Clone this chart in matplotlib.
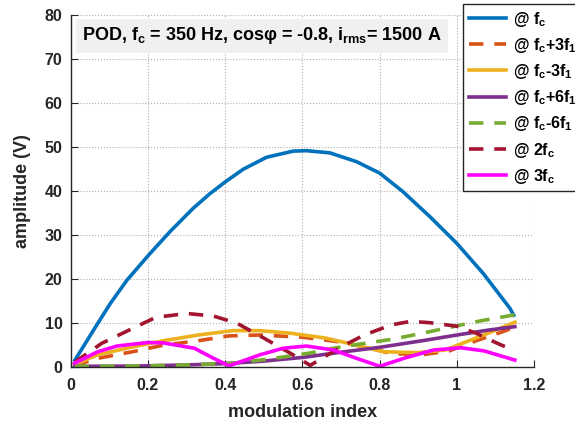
import matplotlib
matplotlib.use("Agg")
import matplotlib.pyplot as plt

plt.rcParams['font.family'] = ['Liberation Sans', 'DejaVu Sans']
plt.rcParams['font.weight'] = 'bold'
plt.rcParams['mathtext.fontset'] = 'custom'
plt.rcParams['mathtext.bf'] = 'Liberation Sans:bold'
plt.rcParams['mathtext.rm'] = 'Liberation Sans:bold'
plt.rcParams['mathtext.default'] = 'bf'

# --- dados ---
m_fc = [0.011, 0.059, 0.102, 0.145, 0.2, 0.257, 0.317, 0.36, 0.4, 0.447, 0.507, 0.576, 0.61,
        0.671, 0.74, 0.8, 0.86, 0.93, 1.0, 1.068, 1.137, 1.147]
a_fc = [1.5, 8.3, 14.3, 19.6, 25.2, 30.7, 36.0, 39.3, 42.0, 44.9, 47.6, 49.0, 49.1,
        48.6, 46.6, 44.0, 39.8, 34.1, 28.0, 21.2, 13.3, 11.7]

m_p3 = [0.01, 0.07, 0.16, 0.24, 0.33, 0.41, 0.49, 0.6, 0.69, 0.76, 0.83, 0.91, 0.98, 1.05, 1.12, 1.15]
a_p3 = [0.3, 1.9, 3.4, 4.9, 5.9, 7.0, 7.2, 6.7, 5.7, 4.5, 3.0, 2.7, 3.6, 5.9, 8.0, 9.0]

m_m3 = [0.01, 0.07, 0.16, 0.24, 0.33, 0.42, 0.49, 0.57, 0.66, 0.74, 0.81, 0.85, 0.9, 0.97, 1.04, 1.1, 1.15]
a_m3 = [0.5, 2.7, 4.5, 5.9, 7.2, 8.2, 8.2, 7.6, 6.5, 4.9, 3.4, 3.3, 3.2, 3.8, 6.2, 8.3, 10.1]

m_p6 = [0.01, 0.1, 0.2, 0.3, 0.4, 0.49, 0.6, 0.7, 0.8, 0.91, 1.0, 1.08, 1.15]
a_p6 = [0.1, 0.1, 0.2, 0.4, 0.7, 1.2, 2.1, 3.3, 4.4, 5.9, 7.2, 8.3, 9.1]

m_m6 = [0.01, 0.1, 0.2, 0.3, 0.42, 0.49, 0.55, 0.62, 0.68, 0.76, 0.83, 0.91, 0.99, 1.06, 1.15]
a_m6 = [0.1, 0.1, 0.2, 0.4, 0.8, 1.5, 2.2, 3.1, 4.2, 5.3, 6.2, 7.6, 9.1, 10.4, 11.8]

m_2fc = [0.01, 0.08, 0.16, 0.22, 0.3, 0.37, 0.43, 0.5, 0.57, 0.62, 0.7, 0.76, 0.83, 0.88, 0.93, 1.0, 1.05, 1.1, 1.15]
a_2fc = [1.0, 5.3, 8.7, 11.2, 12.1, 11.5, 9.9, 6.5, 3.0, 0.3, 4.5, 7.2, 9.5, 10.3, 10.0, 9.2, 7.6, 5.5, 3.6]

m_3fc = [0.01, 0.07, 0.12, 0.2, 0.24, 0.32, 0.37, 0.41, 0.49, 0.55, 0.61, 0.68, 0.74, 0.8, 0.87, 0.94, 1.01, 1.07, 1.15]
a_3fc = [0.8, 3.4, 4.7, 5.5, 5.4, 4.2, 1.9, 0.2, 2.7, 4.2, 4.7, 3.8, 1.9, 0.1, 2.1, 3.8, 4.3, 3.6, 1.5]

labels = ['@ f$_c$', '@ f$_c$+3f$_1$', '@ f$_c$-3f$_1$', '@ f$_c$+6f$_1$',
          '@ f$_c$-6f$_1$', '@ 2f$_c$', '@ 3f$_c$']

fig = plt.figure(figsize=(5.75, 4.21), dpi=100)
ax = fig.add_axes([0.123, 0.129, 0.806, 0.836])

lw = 2.6
dash = (4, 3)
ax.plot(m_fc, a_fc, color='#0072BD', lw=lw, label=labels[0])
ax.plot(m_p3, a_p3, color='#D95319', lw=lw, ls='--', dashes=dash, label=labels[1])
ax.plot(m_m3, a_m3, color='#EDB120', lw=lw, label=labels[2])
ax.plot(m_p6, a_p6, color='#7E2F8E', lw=lw, label=labels[3])
ax.plot(m_m6, a_m6, color='#77AC30', lw=lw, ls='--', dashes=dash, label=labels[4])
ax.plot(m_2fc, a_2fc, color='#A2142F', lw=lw, ls='--', dashes=dash, label=labels[5])
ax.plot(m_3fc, a_3fc, color='#FF00FF', lw=lw, label=labels[6])

ax.set_xlim(0, 1.2)
ax.set_ylim(0, 80)
ax.set_xticks([0, 0.2, 0.4, 0.6, 0.8, 1.0, 1.2])
ax.set_xticklabels(['0', '0.2', '0.4', '0.6', '0.8', '1', '1.2'])
ax.set_yticks(range(0, 81, 10))
ax.grid(True, ls=':', color='#b0b0b0', lw=0.8)
ax.set_axisbelow(True)
for s in ['top', 'right']:
    ax.spines[s].set_visible(False)
for s in ['left', 'bottom']:
    ax.spines[s].set_color('#262626')
    ax.spines[s].set_linewidth(1.0)
ax.tick_params(direction='in', labelsize=11.5, colors='#262626', length=5)
ax.tick_params(axis='x', pad=8)
ax.tick_params(axis='y', pad=6)
ax.set_xlabel('modulation index', fontsize=13, fontweight='bold', color='#262626', labelpad=8)
ax.set_ylabel('amplitude (V)', fontsize=13, fontweight='bold', color='#262626', labelpad=10)

ax.text(0.03, 75.2, 'POD, f$_c$ = 350 Hz, cosφ = -0.8, i$_{rms}$= 1500 A',
        fontsize=13, fontweight='bold', va='center', ha='left',
        bbox=dict(facecolor='#f0f0f0', edgecolor='none', pad=4.5))

leg = ax.legend(loc='upper left', bbox_to_anchor=(463 / 575, 1 - 4 / 421),
                bbox_transform=fig.transFigure, borderaxespad=0, fontsize=11.5,
                frameon=True, fancybox=False, edgecolor='#262626', framealpha=1,
                handlelength=2.35, labelspacing=0.45, borderpad=0.35,
                handletextpad=0.45)
leg.get_frame().set_linewidth(1.0)

fig.savefig('out.png', dpi=100)
